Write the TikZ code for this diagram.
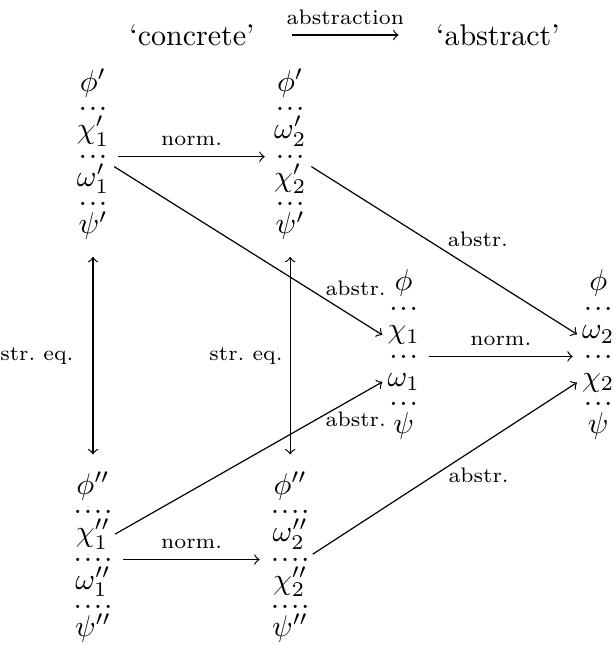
\documentclass[tikz,border=0pt]{standalone}
\usetikzlibrary{positioning}
\begin{document}
\begin{tikzpicture}[
  frm/.style={anchor=base, inner sep=1.5pt},
  dotrow/.style={inner sep=3.5pt},
  lbl/.style={font=\scriptsize},
  streq/.style={<->, shorten <=4pt, shorten >=4pt}
]
\useasboundingbox (0,0) rectangle (7.21,-7.57);

% header
\node (concrete) at (2.25,-0.41) {‘concrete’};
\node (abstract) [right=1.88cm of concrete] {‘abstract’};
\draw[->, shorten <=9pt, shorten >=9pt] (concrete) -- node[lbl, above] {abstraction} (abstract);

% concrete derivations
\foreach \f [count=\i] in {\phi',\chi'_1,\omega'_1,\psi'}
  \node[frm] (a\i) at (1.09,{-1.07-0.557*(\i-1)}) {$\f$};
\foreach \i in {1,2,3}
  \node[dotrow] (ad\i) at (1.09,{-1.28-0.557*(\i-1)}) {.\kern.6pt.\kern.6pt.};
\foreach \f [count=\i] in {\phi',\omega'_2,\chi'_2,\psi'}
  \node[frm] (b\i) at (3.40,{-1.07-0.557*(\i-1)}) {$\f$};
\foreach \i in {1,2,3}
  \node[dotrow] (bd\i) at (3.40,{-1.28-0.557*(\i-1)}) {.\kern.6pt.\kern.6pt.};
\foreach \f [count=\i] in {\phi'',\chi''_1,\omega''_1,\psi''}
  \node[frm] (e\i) at (1.09,{-5.79-0.557*(\i-1)}) {$\f$};
\foreach \i in {1,2,3}
  \node[dotrow] (ed\i) at (1.09,{-6.00-0.557*(\i-1)}) {.\kern.6pt.\kern.6pt.\kern.6pt.};
\foreach \f [count=\i] in {\phi'',\omega''_2,\chi''_2,\psi''}
  \node[frm] (f\i) at (3.40,{-5.79-0.557*(\i-1)}) {$\f$};
\foreach \i in {1,2,3}
  \node[dotrow] (fd\i) at (3.40,{-6.00-0.557*(\i-1)}) {.\kern.6pt.\kern.6pt.\kern.6pt.};

% abstract derivations
\foreach \f [count=\i] in {\phi,\chi_1,\omega_1,\psi}
  \node[frm] (c\i) at (4.73,{-3.41-0.557*(\i-1)}) {$\f$};
\foreach \i in {1,2,3}
  \node[dotrow] (cd\i) at (4.73,{-3.62-0.557*(\i-1)}) {.\kern.6pt.\kern.6pt.};
\foreach \f [count=\i] in {\phi,\omega_2,\chi_2,\psi}
  \node[frm] (d\i) at (7.01,{-3.41-0.557*(\i-1)}) {$\f$};
\foreach \i in {1,2,3}
  \node[dotrow] (dd\i) at (7.01,{-3.62-0.557*(\i-1)}) {.\kern.6pt.\kern.6pt.};

% normalisation
\draw[->] (ad2) -- node[lbl, above] {norm.} (bd2);
\draw[->] (cd2) -- node[lbl, above] {norm.} (dd2);
\draw[->] (ed2) -- node[lbl, above] {norm.} (fd2);

% abstraction
\draw[->] (a3.30) -- node[lbl, pos=0.9, above=4pt] {abstr.} (c2.west);
\draw[->] (b3.30) -- node[lbl, midway, above right, inner sep=1pt] {abstr.} (d2.west);
\draw[->] (e2.east) -- node[lbl, pos=0.9, below=1.5pt] {abstr.} (c3.west);
\draw[->] (f2.south east) -- node[lbl, midway, below right, inner sep=1pt, yshift=1.5pt] {abstr.} (d3.west);

% structural equivalence
\draw[streq] (a4.south) -- node[lbl, left=3pt] {str.\ eq.} (e1.north);
\draw[streq] (b4.south) -- node[lbl, left=-1pt] {str.\ eq.} (f1.north);
\end{tikzpicture}
\end{document}
